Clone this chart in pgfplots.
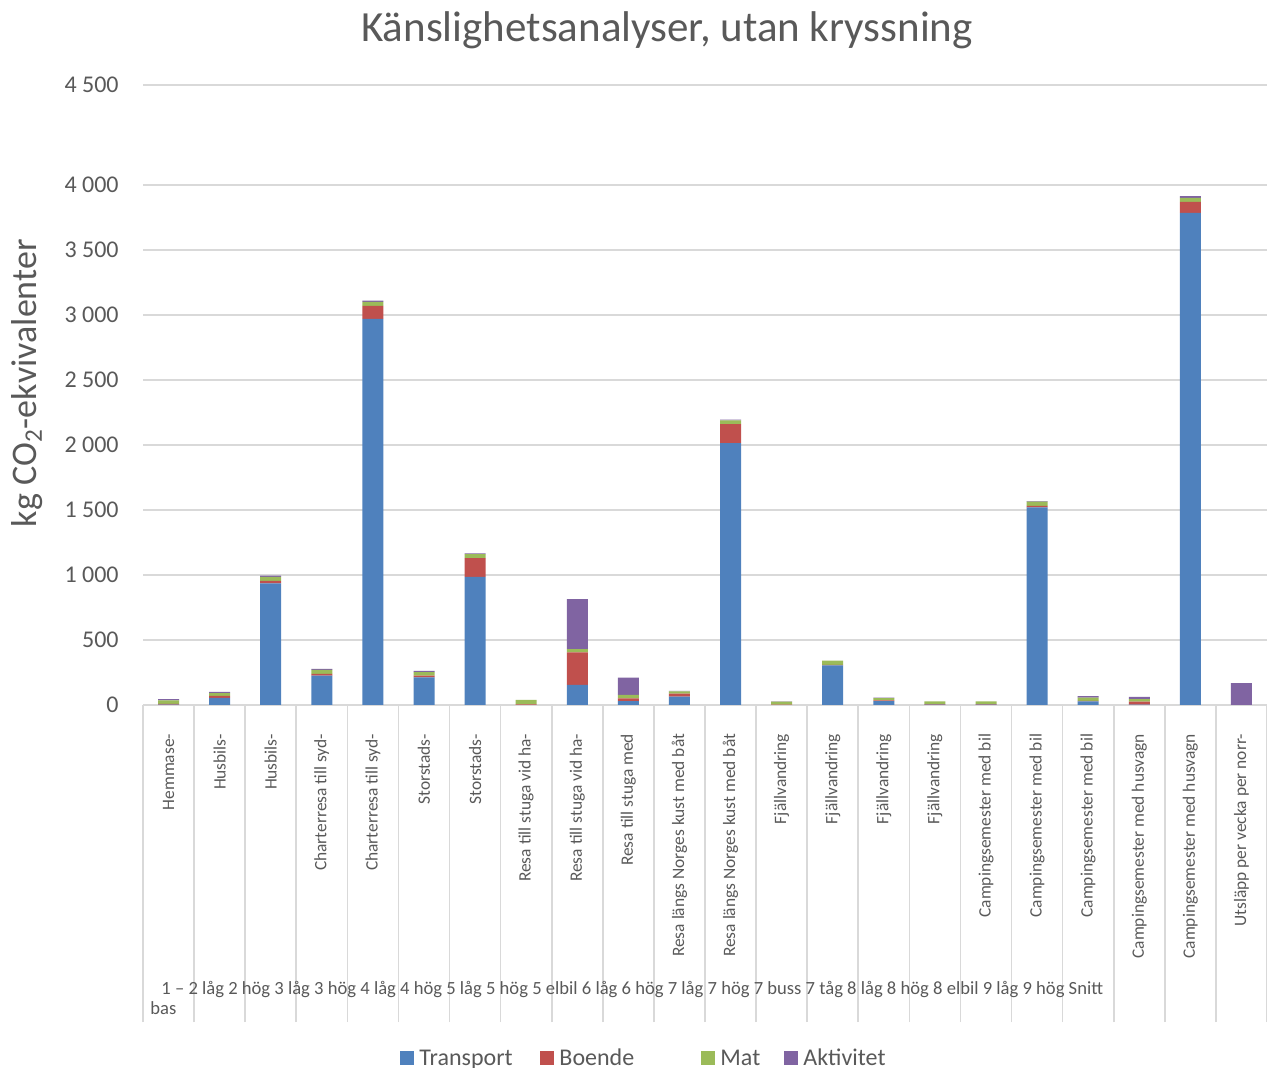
\documentclass[border=0pt]{standalone}
\usepackage{fontspec}
\setmainfont{Carlito}
\usepackage{pgfplots}
\usepackage{pgfplotstable}
\pgfplotsset{compat=1.18}

\definecolor{cT}{HTML}{4F81BD}
\definecolor{cB}{HTML}{C0504D}
\definecolor{cM}{HTML}{9BBB59}
\definecolor{cA}{HTML}{8064A2}
\definecolor{txt}{HTML}{595959}
\definecolor{gridc}{HTML}{D9D9D9}

% Transport, Boende, Mat, Aktivitet (kg CO2-ekv.)
\pgfplotstableread{
x  T     B    M   A
0  3     5    28  10
1  55    15   22  8
2  935   20   30  10
3  225   15   30  7
4  2970  100  30  10
5  213   12   28  10
6  985   145  30  7
7  0     5    35  0
8  154   251  25  385
9  30    21   26  133
10 64    23   18  3
11 2015  145  30  5
12 0     3    22  3
13 305   3    33  0
14 30    5    18  3
15 3     3    22  0
16 3     3    22  0
17 1520  12   32  5
18 28    4    25  12
19 2     23   21  16
20 3785  84   31  15
21 0     0    0   169
}\datatable

\begin{document}
\begin{tikzpicture}
\useasboundingbox (0pt,0pt) rectangle (633.5pt,534pt);
\begin{axis}[
    at={(71.5pt,181.5pt)}, anchor=south west,
    scale only axis, width=562pt, height=310pt,
    ybar stacked, bar width=10.5pt,
    xmin=-0.5, xmax=21.5, ymin=0, ymax=4769,
    axis x line*=bottom, axis y line*=left,
    x axis line style={draw=gridc, line width=0.8pt},
    y axis line style={draw=none},
    ymajorgrids, major grid style={draw=gridc, line width=0.8pt},
    ytick={0,500,1000,1500,2000,2500,3000,3500,4000,4769},
    yticklabels={0,500,1 000,1 500,2 000,2 500,3 000,3 500,4 000,4 500},
    yticklabel style={inner sep=0pt, xshift=-12pt, font=\fontsize{12}{14}\selectfont, text=txt},
    ytick style={draw=none},
    xtick={0,...,21},
    xticklabels={Hemmase-, Husbils-, Husbils-, Charterresa till syd-, Charterresa till syd-,
      Storstads-, Storstads-, Resa till stuga vid ha-, Resa till stuga vid ha-,
      Resa till stuga med, Resa längs Norges kust med båt, Resa längs Norges kust med båt,
      Fjällvandring, Fjällvandring, Fjällvandring, Fjällvandring,
      Campingsemester med bil, Campingsemester med bil, Campingsemester med bil,
      Campingsemester med husvagn, Campingsemester med husvagn, Utsläpp per vecka per norr-},
    xticklabel style={rotate=90, anchor=east, inner sep=0pt, font=\fontsize{8.7}{10}\selectfont, text=txt},
    xticklabel shift=10pt,
    xtick align=outside,
    major x tick style={draw=none},
    minor xtick={-0.5,0.5,...,21.5},
    minor tick length=158.5pt,
    minor x tick style={draw=gridc, line width=0.8pt},
    title={Känslighetsanalyser, utan kryssning},
    title style={at={(axis description cs:0.4662,1.05)}, anchor=base, font=\fontsize{21.5}{25}\selectfont, text=txt},
    ylabel={kg CO\textsubscript{2}-ekvivalenter},
    ylabel style={at={(axis description cs:-0.103,0.519)}, anchor=center, font=\fontsize{18}{22}\selectfont, text=txt},
    legend columns=4,
    legend style={draw=none, fill=none, inner sep=0pt,
      at={(axis description cs:0.2287,-0.571)}, anchor=west,
      font=\fontsize{12}{14}\selectfont, text=txt,
      nodes={inner sep=0pt},
      /tikz/every odd column/.append style={column sep=2.5pt}},
    legend image code/.code={\fill[#1] (0pt,-3pt) rectangle (7pt,4pt);},
    clip=false,
]
\addplot[fill=cT, draw=none] table[x=x, y=T] {\datatable};
\addlegendentry{\makebox[60.5pt][l]{Transport}}
\addplot[fill=cB, draw=none] table[x=x, y=B] {\datatable};
\addlegendentry{\makebox[71pt][l]{Boende}}
\addplot[fill=cM, draw=none] table[x=x, y=M] {\datatable};
\addlegendentry{\makebox[32pt][l]{Mat}}
\addplot[fill=cA, draw=none] table[x=x, y=A] {\datatable};
\addlegendentry{Aktivitet}
\end{axis}
\node[anchor=base west, inner sep=0pt, font=\fontsize{9.3}{11}\selectfont, text=txt] at (80.5pt,36.5pt)
  {1 – 2 låg 2 hög 3 låg 3 hög 4 låg 4 hög 5 låg 5 hög 5 elbil 6 låg 6 hög 7 låg 7 hög 7 buss 7 tåg 8 låg 8 hög 8 elbil 9 låg 9 hög Snitt};
\node[anchor=base west, inner sep=0pt, font=\fontsize{9.3}{11}\selectfont, text=txt] at (75pt,26.5pt) {bas};
\end{tikzpicture}
\end{document}
